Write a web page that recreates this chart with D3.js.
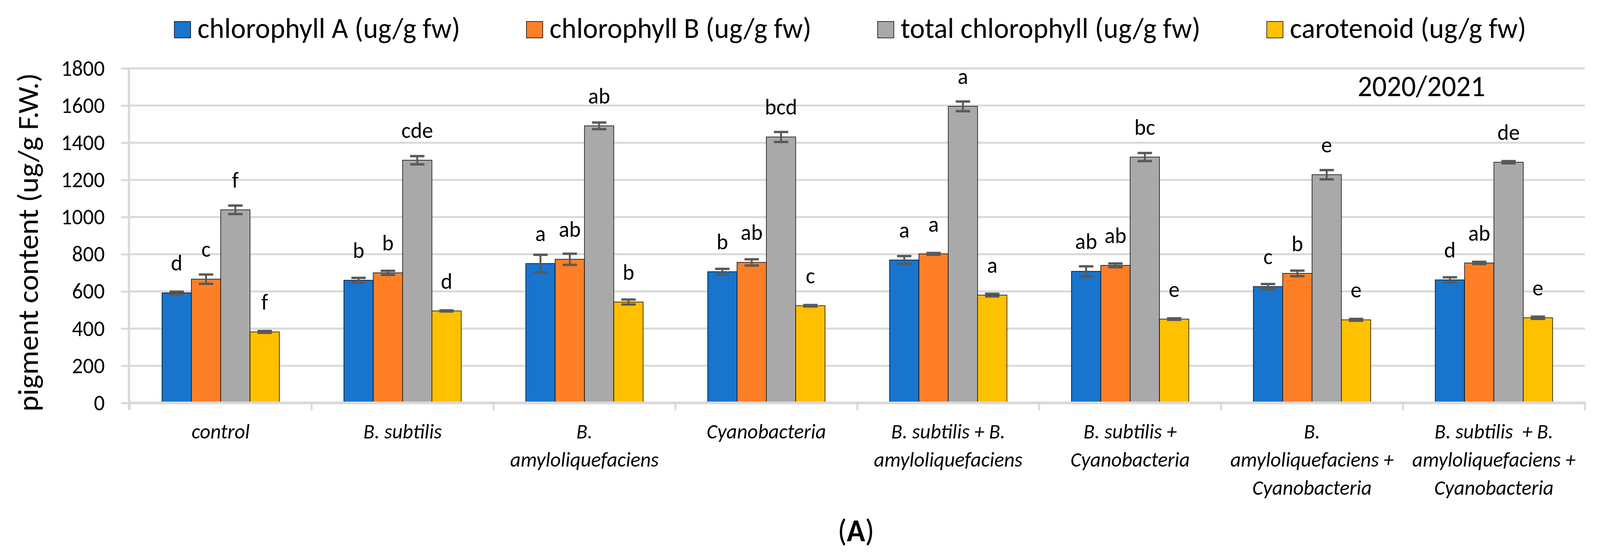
<!DOCTYPE html>
<html>
<head>
<meta charset="utf-8">
<script src="https://cdn.jsdelivr.net/npm/d3@7"></script>
<style>
  html, body { margin: 0; padding: 0; background: #fff; overflow: hidden; }
  svg { display: block; }
  text { font-family: Carlito, Calibri, Lato, sans-serif; fill: #000; }
</style>
</head>
<body>
<svg id="chart" viewBox="0 0 4230 1433" preserveAspectRatio="none"></svg>
<script>
// data (2020/2021 season)
const categories = [
  ["control"],
  ["B. subtilis"],
  ["B.", "amyloliquefaciens"],
  ["Cyanobacteria"],
  ["B. subtilis + B.", "amyloliquefaciens"],
  ["B. subtilis +", "Cyanobacteria"],
  ["B.", "amyloliquefaciens +", "Cyanobacteria"],
  ["B. subtilis  + B.", "amyloliquefaciens +", "Cyanobacteria"]
]
const seriesNames = ["chlorophyll A (ug/g fw)", "chlorophyll B (ug/g fw)",
                     "total chlorophyll (ug/g fw)", "carotenoid (ug/g fw)"]
const seriesColors = ["#1874CD", "#FF7F27", "#A9A9A9", "#FFC000"]

const chlA  = [592, 660, 750, 706, 769, 708, 626, 662]
const chlB  = [666, 700, 773, 756, 802, 740, 697, 753]
const total = [1039, 1306, 1491, 1431, 1596, 1323, 1228, 1295]
const carot = [382, 495, 543, 523, 580, 451, 447, 458]

const errA     = [7, 13, 47, 15, 21, 27, 14, 14]
const errB     = [25, 11, 30, 17, 5, 10, 15, 6]
const errTotal = [23, 22, 18, 27, 26, 22, 25, 6]
const errCarot = [5, 3, 13, 4, 7, 4, 5, 6]

const letA     = ["d", "b", "a", "b", "a", "ab", "c", "d"]
const letB     = ["c", "b", "ab", "ab", "a", "ab", "b", "ab"]
const letTotal = ["f", "cde", "ab", "bcd", "a", "bc", "e", "de"]
const letCarot = ["f", "d", "b", "c", "a", "e", "e", "e"]

const yTicks = [0, 200, 400, 600, 800, 1000, 1200, 1400, 1600, 1800]

const values  = [chlA, chlB, total, carot]
const errors  = [errA, errB, errTotal, errCarot]
const letters = [letA, letB, letTotal, letCarot]

// the drawing is laid out on a 4230x1433 grid and stretched to the window
const svg = d3.select("#chart")
  .attr("width", window.innerWidth).attr("height", window.innerHeight)
const gridColor = "#D9D9D9"

const plotL = 343, plotR = 4190, plotT = 175, plotB = 1031

const x = d3.scaleBand().domain(d3.range(categories.length)).range([plotL, plotR])
const xs = d3.scaleBand().domain(d3.range(seriesNames.length))
  .range([0, x.bandwidth()]).paddingInner(0).paddingOuter(1.1)
const y = d3.scaleLinear().domain([0, 1800]).range([plotB, plotT])

svg.append("rect").attr("width", 4230).attr("height", 1433).attr("fill", "#fff")

// y axis: tick marks + labels
const yAxis = svg.append("g")
  .attr("transform", `translate(${plotL},0)`)
  .call(d3.axisLeft(y).tickValues(yTicks).tickFormat(d3.format("d"))
    .tickSize(23).tickPadding(43))
yAxis.select(".domain").remove()
yAxis.selectAll(".tick line").attr("stroke", gridColor).attr("stroke-width", 5)
yAxis.selectAll(".tick text")
  .attr("font-size", 57).attr("font-family", "Carlito, Calibri, Lato, sans-serif")
  .attr("fill", "#000")

// gridlines
svg.append("g").selectAll("line")
  .data(yTicks.filter(d => d > 0))
  .join("line")
  .attr("x1", plotL).attr("x2", plotR)
  .attr("y1", d => y(d)).attr("y2", d => y(d))
  .attr("stroke", gridColor).attr("stroke-width", 5)

// vertical axis line
svg.append("line")
  .attr("x1", plotL - 2).attr("x2", plotL - 2)
  .attr("y1", y(1800) - 2).attr("y2", plotB + 18)
  .attr("stroke", gridColor).attr("stroke-width", 6)

// category tick marks (between categories)
svg.append("g").selectAll("line")
  .data(d3.range(categories.length + 1))
  .join("line")
  .attr("x1", i => plotL + i * x.step()).attr("x2", i => plotL + i * x.step())
  .attr("y1", plotB).attr("y2", plotB + 19)
  .attr("stroke", gridColor).attr("stroke-width", 5)

// bars
values.forEach((vals, s) => {
  svg.append("g").selectAll("rect")
    .data(vals)
    .join("rect")
    .attr("x", (d, i) => x(i) + xs(s))
    .attr("y", d => y(d))
    .attr("width", xs.bandwidth())
    .attr("height", d => plotB - y(d))
    .attr("fill", seriesColors[s])
    .attr("stroke", "#000")
    .attr("stroke-width", 1.5)
})

// x axis line over the bar bottoms
svg.append("line")
  .attr("x1", plotL - 5).attr("x2", plotR + 2)
  .attr("y1", plotB).attr("y2", plotB)
  .attr("stroke", gridColor).attr("stroke-width", 7)

// error bars
values.forEach((vals, s) => {
  const g = svg.append("g").attr("stroke", "#595959")
  vals.forEach((v, i) => {
    const cx = x(i) + xs(s) + xs.bandwidth() / 2
    const e = errors[s][i]
    g.append("line").attr("x1", cx).attr("x2", cx)
      .attr("y1", y(v + e)).attr("y2", y(v - e)).attr("stroke-width", 5)
    ;[v + e, v - e].forEach(t => {
      g.append("line").attr("x1", cx - 19).attr("x2", cx + 19)
        .attr("y1", y(t)).attr("y2", y(t)).attr("stroke-width", 6)
    })
  })
})

// significance letters
letters.forEach((lets, s) => {
  svg.append("g").selectAll("text")
    .data(lets)
    .join("text")
    .attr("x", (d, i) => x(i) + xs(s) + xs.bandwidth() / 2)
    .attr("y", (d, i) => y(values[s][i]) - 57)
    .attr("text-anchor", "middle")
    .attr("font-size", 58)
    .text(d => d)
})

// category labels
const catG = svg.append("g")
categories.forEach((lines, i) => {
  const t = catG.append("text")
    .attr("text-anchor", "middle")
    .attr("font-size", 54)
    .attr("font-style", "italic")
  lines.forEach((ln, k) => {
    t.append("tspan")
      .attr("x", x(i) + x.bandwidth() / 2)
      .attr("y", 1122 + k * 72)
      .attr("xml:space", "preserve")
      .text(ln)
  })
})

// y axis title
svg.append("text")
  .attr("transform", "translate(100,620) rotate(-90)")
  .attr("text-anchor", "middle")
  .attr("font-size", 77)
  .text("pigment content (ug/g F.W.)")

// season label
svg.append("text")
  .attr("x", 3758).attr("y", 246)
  .attr("text-anchor", "middle")
  .attr("font-size", 76)
  .text("2020/2021")

// panel label
const pl = svg.append("text")
  .attr("x", 2263).attr("y", 1385)
  .attr("text-anchor", "middle")
  .attr("font-size", 80)
pl.append("tspan").text("(")
pl.append("tspan").attr("font-weight", "bold").text("A")
pl.append("tspan").text(")")

// legend, laid out from measured text widths and centred
const legend = svg.append("g")
const items = seriesNames.map((name, s) => {
  const g = legend.append("g")
  g.append("rect").attr("width", 43).attr("height", 42).attr("y", 55)
    .attr("fill", seriesColors[s]).attr("stroke", "#000").attr("stroke-width", 1.5)
  const t = g.append("text").attr("x", 61).attr("y", 97)
    .attr("font-size", 75).text(name)
  return { g, w: 61 + t.node().getComputedTextLength() }
})
const gap = 175
const totalW = d3.sum(items, d => d.w) + gap * (items.length - 1)
let lx = 2248 - totalW / 2
items.forEach(it => {
  it.g.attr("transform", `translate(${lx},0)`)
  lx += it.w + gap
})
</script>
</body>
</html>
